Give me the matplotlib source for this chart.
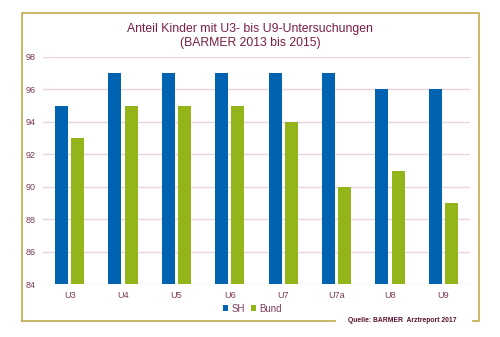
import matplotlib.pyplot as plt
import numpy as np
from matplotlib.lines import Line2D

plt.rcParams['font.family'] = ['Liberation Sans', 'DejaVu Sans']

categories = ["U3", "U4", "U5", "U6", "U7", "U7a", "U8", "U9"]
sh = [95, 97, 97, 97, 97, 97, 96, 96]
bund = [93, 95, 95, 95, 94, 90, 91, 89]

maroon = "#7a1d45"
label_col = "#7d3a5c"
blue = "#0063b1"
green = "#93b51a"
gold = "#c2aa4a"

fig = plt.figure(figsize=(5, 3.37), dpi=100)
ax = fig.add_axes([0.086, 0.157, 0.854, 0.674])

x = np.arange(len(categories))
w = 0.245
ax.bar(x - w / 2 - 0.03, sh, w, color=blue, label="SH", zorder=3)
ax.bar(x + w / 2 + 0.03, bund, w, color=green, label="Bund", zorder=3)

ax.set_ylim(84, 98)
ax.set_yticks(range(84, 99, 2))
ax.set_xlim(-0.5, len(categories) - 0.5)
ax.set_xticks(x)
ax.set_xticklabels(categories)
ax.tick_params(length=0, labelsize=6.5, colors=label_col)
ax.tick_params(axis="y", pad=5)
ax.tick_params(axis="x", pad=5)
ax.grid(axis="y", color="#ead3de", linewidth=1, zorder=0)
for s in ax.spines.values():
    s.set_visible(False)

fig.text(0.5, 0.893, "Anteil Kinder mit U3- bis U9-Untersuchungen\n(BARMER 2013 bis 2015)",
         ha="center", va="center", fontsize=8.8, color=maroon, linespacing=1.2)

ax.legend(loc="center", bbox_to_anchor=(0.505, 0.084), bbox_transform=fig.transFigure,
          ncol=2, frameon=False, fontsize=7, labelcolor=label_col,
          handlelength=0.5, handleheight=0.5, handletextpad=0.3, columnspacing=0.7)

fig.text(0.804, 0.049, "Quelle: BARMER  Arztreport 2017", ha="center", va="center",
         fontsize=4.9, fontweight="bold", color="#5a1030")

# Rahmen
fr = dict(color=gold, linewidth=1.2, transform=fig.transFigure)
fig.add_artist(Line2D([0.044, 0.044, 0.958, 0.958, 0.946], [0.0475, 0.961, 0.961, 0.0475, 0.0475], **fr))
fig.add_artist(Line2D([0.044, 0.67], [0.0475, 0.0475], **fr))

fig.savefig("out.png", dpi=100)
